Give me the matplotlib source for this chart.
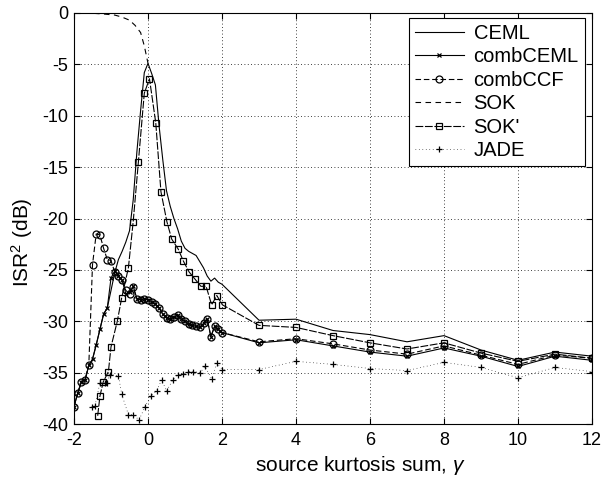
import numpy as np
import matplotlib
matplotlib.use("Agg")
import matplotlib.pyplot as plt

plt.rcParams['font.family'] = ['Liberation Sans', 'DejaVu Sans']
plt.rcParams['mathtext.fontset'] = 'custom'
plt.rcParams['mathtext.rm'] = 'Liberation Sans'
plt.rcParams['mathtext.it'] = 'Liberation Sans:italic'
plt.rcParams['axes.unicode_minus'] = False

# ---- data: ISR^2 (dB) versus source kurtosis sum gamma ----
gamma_fine = [-2.0, -1.9, -1.8, -1.7, -1.6, -1.5, -1.4, -1.3, -1.2, -1.1,
              -1.0, -0.9, -0.8, -0.7, -0.6, -0.5, -0.4, -0.3, -0.2, -0.1,
              0.0, 0.1, 0.2, 0.3, 0.4, 0.5, 0.6, 0.7, 0.8, 0.9,
              1.0, 1.1, 1.2, 1.3, 1.4, 1.5, 1.6, 1.7, 1.8, 1.9, 2.0]
gamma_coarse = [3, 4, 5, 6, 7, 8, 9, 10, 11, 12]

ceml_fine = [-38.3, -37.0, -35.9, -35.7, -34.3, -33.7, -32.3, -30.8, -29.3, -28.7,
             -27.0, -25.3, -24.0, -23.2, -22.3, -21.2, -18.2, -13.5, -9.5, -5.8,
             -4.9, -5.9, -7.0, -11.0, -14.3, -17.3, -18.8, -20.0, -21.0, -22.2,
             -22.9, -23.2, -23.4, -23.6, -24.2, -24.8, -25.6, -26.1, -25.8, -26.2, -26.4]
ceml_coarse = [-29.9, -29.8, -30.9, -31.3, -32.0, -31.4, -32.8, -33.8, -33.0, -33.4]

combceml_fine = [-38.3, -37.0, -35.9, -35.7, -34.3, -33.7, -32.3, -30.8, -29.3, -28.7,
                 -25.8, -25.1, -25.6, -26.0, -27.3, -27.2, -26.6, -27.8, -27.9, -27.8,
                 -27.9, -28.1, -28.3, -28.7, -29.3, -29.7, -29.8, -29.6, -29.4, -29.8,
                 -30.0, -30.3, -30.4, -30.5, -30.6, -30.2, -29.8, -31.5, -30.5, -30.8, -31.1]
combceml_coarse = [-32.1, -31.8, -32.4, -33.0, -33.4, -32.6, -33.4, -34.4, -33.4, -33.8]

combccf_fine = [-38.3, -37.0, -35.9, -35.7, -34.3, -24.5, -21.5, -21.6, -22.9, -24.0,
                -24.1, -25.2, -25.6, -26.0, -27.0, -27.3, -26.7, -27.8, -27.9, -27.8,
                -27.9, -28.1, -28.3, -28.7, -29.3, -29.7, -29.8, -29.6, -29.4, -29.8,
                -30.0, -30.3, -30.4, -30.5, -30.6, -30.2, -29.8, -31.5, -30.5, -30.8, -31.1]
combccf_coarse = [-32.0, -31.7, -32.2, -32.8, -33.2, -32.4, -33.3, -34.2, -33.3, -33.6]

sok_gamma = [-2.0, -1.6, -1.2, -0.9, -0.7, -0.5, -0.35, -0.2, -0.1, 0.0]
sok = [0.0, 0.0, -0.1, -0.2, -0.4, -0.7, -1.2, -1.9, -3.2, -4.9]

sokp_gamma = [-1.36, -1.30, -1.21, -1.07, -1.00, -0.83, -0.71, -0.53, -0.40, -0.26,
              -0.10, 0.04, 0.21, 0.35, 0.51, 0.64, 0.82, 0.95, 1.11, 1.27,
              1.43, 1.57, 1.72, 1.86, 2.01, 3, 4, 5, 6, 7, 8, 9, 10, 11, 12]
sokp = [-39.2, -37.3, -35.9, -34.9, -32.5, -30.0, -27.7, -24.8, -20.3, -14.5,
        -7.8, -6.4, -10.7, -17.4, -20.3, -22.0, -23.0, -24.1, -25.2, -25.9,
        -26.6, -26.6, -28.4, -27.5, -28.4, -30.4, -30.6, -31.4, -32.1, -32.7,
        -32.1, -33.1, -33.9, -33.2, -33.6]

jade_gamma = [-1.52, -1.43, -1.30, -1.16, -1.12, -1.03, -0.80, -0.71, -0.53, -0.40,
              -0.24, -0.08, 0.07, 0.23, 0.37, 0.50, 0.67, 0.80, 0.95, 1.09,
              1.22, 1.41, 1.54, 1.72, 1.86, 2.01, 3, 4, 5, 6, 7, 8, 9, 10, 11, 12]
jade = [-38.3, -38.2, -36.0, -36.0, -36.0, -35.2, -35.3, -37.1, -39.1, -39.1,
        -39.6, -38.3, -37.3, -36.8, -35.7, -36.8, -35.7, -35.2, -35.1, -34.9,
        -34.9, -35.0, -34.4, -35.6, -34.1, -34.7, -34.7, -33.9, -34.2, -34.6,
        -34.8, -34.0, -34.5, -35.5, -34.5, -34.9]

x_ticks = [-2, 0, 2, 4, 6, 8, 10, 12]
y_ticks = [-40, -35, -30, -25, -20, -15, -10, -5, 0]

gamma_all = gamma_fine + gamma_coarse

fig = plt.figure(figsize=(6.04, 4.78), dpi=100)
ax = fig.add_axes([74 / 604, 54 / 478, 518 / 604, 411 / 478])

lw = 0.8
ax.plot(gamma_all, ceml_fine + ceml_coarse, color='k', lw=lw, label='CEML')
ax.plot(gamma_all, combceml_fine + combceml_coarse, color='k', lw=lw,
        marker='x', ms=3.5, mew=0.9, label='combCEML')
ax.plot(gamma_all, combccf_fine + combccf_coarse, color='k', lw=lw,
        ls=(0, (5, 2.5)), marker='o', ms=5, mfc='none', mew=0.9, label='combCCF')
ax.plot(sok_gamma, sok, color='k', lw=lw, ls=(0, (5, 4)), label='SOK')
ax.plot(sokp_gamma, sokp, color='k', lw=lw, ls=(0, (7, 1.5)),
        marker='s', ms=4.5, mfc='none', mew=0.9, label="SOK'")
ax.plot(jade_gamma, jade, color='k', lw=0.5, ls=(0, (1, 4)),
        marker='+', ms=5, mew=0.9, label='JADE')

ax.set_xlim(-2, 12)
ax.set_ylim(-40, 0)
ax.set_xticks(x_ticks)
ax.set_yticks(y_ticks)
ax.tick_params(direction='in', length=4, width=0.8, top=True, right=True,
               labelsize=13, pad=4, colors='k')
ax.tick_params(axis='x', pad=6)
ax.grid(True, color='k', ls=(0, (1, 3)), lw=0.6)
for s in ax.spines.values():
    s.set_linewidth(0.8)

ax.set_xlabel('source kurtosis sum, $\\gamma$', fontsize=15)
ax.set_ylabel('ISR$^2$ (dB)', fontsize=15)
ax.xaxis.set_label_coords(0.552, -0.074)
ax.yaxis.set_label_coords(-0.076, 0.443)

leg = ax.legend(loc='upper right', bbox_to_anchor=(0.986, 0.988), borderaxespad=0,
                fontsize=14.5, handlelength=2.4, handletextpad=0.5,
                labelspacing=0.22, borderpad=0.3, fancybox=False, framealpha=1,
                edgecolor='k')
leg.get_frame().set_linewidth(0.8)

fig.savefig('out.png', dpi=100)
